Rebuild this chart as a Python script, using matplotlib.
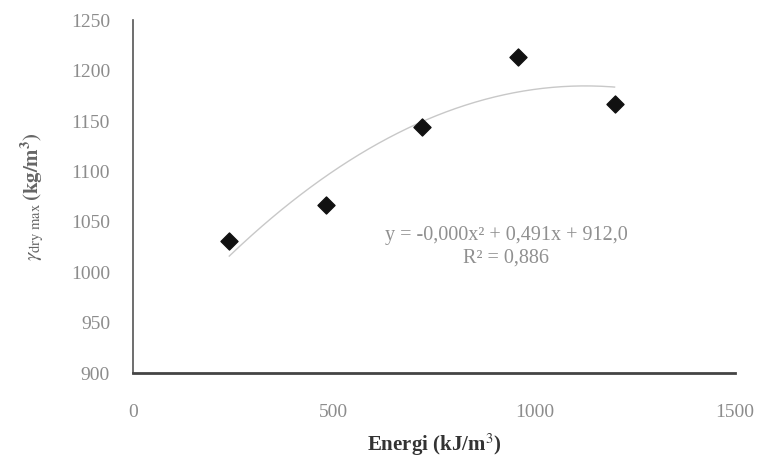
import numpy as np
import matplotlib
matplotlib.use("Agg")
from matplotlib import pyplot as plt

# data
energi = [240, 480, 720, 960, 1200]          # kJ/m3
gamma_dry_max = [1031, 1067, 1144, 1214, 1167]  # kg/m3
x_ticks = [0, 500, 1000, 1500]
y_ticks = [900, 950, 1000, 1050, 1100, 1150, 1200, 1250]
eq_text = "y = -0,000x² + 0,491x + 912,0"
r2_text = "R² = 0,886"

plt.rcParams['font.family'] = ['Liberation Serif', 'DejaVu Serif']
plt.rcParams['mathtext.fontset'] = 'stix'

fig = plt.figure(figsize=(7.64, 4.59), dpi=100)
ax = fig.add_axes([0.174, 0.187, 0.788, 0.769])

# polynomial trendline (order 2), like the spreadsheet one
coef = np.polyfit(energi, gamma_dry_max, 2)
xs = np.linspace(min(energi), max(energi), 200)
ax.plot(xs, np.polyval(coef, xs), color='#c8c8c8', lw=1.0, zorder=2)

ax.scatter(energi, gamma_dry_max, marker='D', s=75, color='#111111', zorder=3)

ax.set_xlim(0, 1500)
ax.set_ylim(900, 1250)
ax.set_xticks(x_ticks)
ax.set_yticks(y_ticks)
ax.tick_params(length=0, labelsize=14, colors='#8c8c8c')
ax.tick_params(axis='y', pad=16.5)
ax.tick_params(axis='x', pad=22)

for s in ['top', 'right']:
    ax.spines[s].set_visible(False)
ax.spines['left'].set_color('#555555')
ax.spines['left'].set_linewidth(1.2)
ax.spines['bottom'].set_color('#444444')
ax.spines['bottom'].set_linewidth(2.0)

ax.set_xlabel('Energi (kJ/m$^3$)', fontsize=15, fontweight='bold', color='#333333', labelpad=8)
ax.set_ylabel(r'$\gamma_{\mathrm{dry\ max}}\,\mathbf{(kg/m^3)}$', fontsize=15, color='#666666', labelpad=18)

ax.text(0.62, 0.39, eq_text, transform=ax.transAxes, ha='center', va='center',
        fontsize=14.5, color='#909090')
ax.text(0.62, 0.325, r2_text, transform=ax.transAxes, ha='center', va='center',
        fontsize=14.5, color='#909090')

fig.savefig('out.png', dpi=100)
